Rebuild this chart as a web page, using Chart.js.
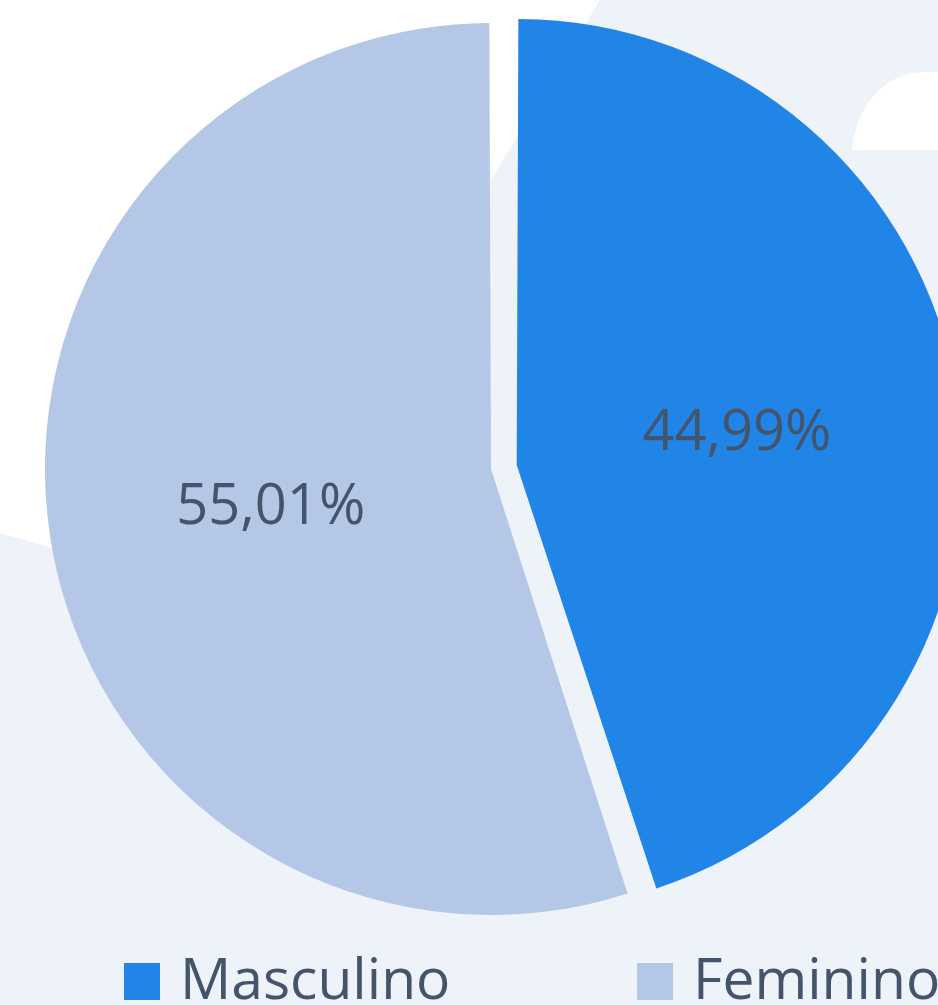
<!DOCTYPE html>
<html>
<head>
<meta charset="utf-8">
<script src="https://cdn.jsdelivr.net/npm/chart.js@4.4.1/dist/chart.umd.min.js"></script>
<style>
    body { margin: 0; background: #eef2f9; }
    #wrap { position: relative; width: 938px; height: 1005px; overflow: hidden; }
    #legend { position: absolute; left: 0; top: 0; width: 938px; height: 1005px; pointer-events: none; }
    .item { position: absolute; top: 949px; height: 56px; display: flex; align-items: flex-start; }
    .box { width: 36px; height: 37px; margin-top: 14px; margin-right: 20px; }
    .txt { font: 57px/56px "Open Sans", sans-serif; color: #44546a; white-space: nowrap; }
</style>
</head>
<body>
<div id="wrap">
    <canvas id="pie-chart"></canvas>
    <div id="legend"></div>
</div>
<script>
(function () {
    "use strict";

    // data
    const labels = ["Masculino", "Feminino"];
    const shares = [44.99, 55.01];
    const colors = ["#2185e8", "#b4c7e7"];

    const textColor = "#44546a";
    const legendX = [124, 637];

    // page background with the white shapes behind the pie
    const backdrop = {
        id: "backdrop",
        beforeDraw(chart) {
            const ctx = chart.ctx;
            ctx.save();
            ctx.fillStyle = "#eef2f9";
            ctx.fillRect(0, 0, chart.width, chart.height);
            ctx.fillStyle = "#ffffff";
            ctx.beginPath();
            ctx.moveTo(0, 0);
            ctx.lineTo(600, 0);
            ctx.lineTo(491, 180);
            ctx.bezierCurveTo(400, 400, 220, 560, 52, 548);
            ctx.lineTo(0, 533);
            ctx.closePath();
            ctx.fill();
            ctx.beginPath();
            ctx.moveTo(852, 150);
            ctx.bezierCurveTo(856, 105, 885, 72, 925, 72);
            ctx.lineTo(938, 72);
            ctx.lineTo(938, 150);
            ctx.closePath();
            ctx.fill();
            ctx.restore();
        },
    };

    // percentage labels, placed halfway out along each slice as drawn
    const sliceLabels = {
        id: "sliceLabels",
        afterDatasetsDraw(chart) {
            const ctx = chart.ctx;
            const meta = chart.getDatasetMeta(0);
            ctx.save();
            ctx.font = '56px "Open Sans", sans-serif';
            ctx.fillStyle = textColor;
            ctx.textAlign = "center";
            ctx.textBaseline = "middle";
            meta.data.forEach((arc, i) => {
                const p = arc.getProps(["x", "y", "startAngle", "endAngle", "outerRadius", "circumference"], true);
                const mid = (p.startAngle + p.endAngle) / 2;
                const shift = (arc.options.offset || 0) / 4;
                const fix = 1 - Math.sin(Math.min(Math.PI, p.circumference));
                const r = p.outerRadius + shift * fix;
                const d = shift + r / 2;
                const text = shares[i].toFixed(2).replace(".", ",") + "%";
                ctx.fillText(text, p.x + Math.cos(mid) * d, p.y + Math.sin(mid) * d + 4);
            });
            ctx.restore();
        },
    };

    const chart = new Chart(document.getElementById("pie-chart"), {
        type: "pie",
        data: {
            labels: labels,
            datasets: [
                {
                    data: shares,
                    backgroundColor: colors,
                    borderWidth: 0,
                    offset: [61.5, 42.5],
                    radius: 435.4,
                    clip: false,
                },
            ],
        },
        options: {
            responsive: true,
            maintainAspectRatio: false,
            animation: false,
            layout: {
                padding: { left: 65, right: 0, top: 0, bottom: 70.4 },
            },
            plugins: {
                legend: { display: false },
                tooltip: { enabled: false },
            },
        },
        plugins: [backdrop, sliceLabels],
    });

    // html legend built from the chart's own legend items
    const legendEl = document.getElementById("legend");
    const items = chart.options.plugins.legend.labels.generateLabels(chart);
    items.forEach((it, i) => {
        const el = document.createElement("div");
        el.className = "item";
        el.style.left = legendX[i] + "px";
        const box = document.createElement("span");
        box.className = "box";
        box.style.background = it.fillStyle;
        const txt = document.createElement("span");
        txt.className = "txt";
        txt.textContent = it.text;
        el.appendChild(box);
        el.appendChild(txt);
        legendEl.appendChild(el);
    });
})();
</script>
</body>
</html>
